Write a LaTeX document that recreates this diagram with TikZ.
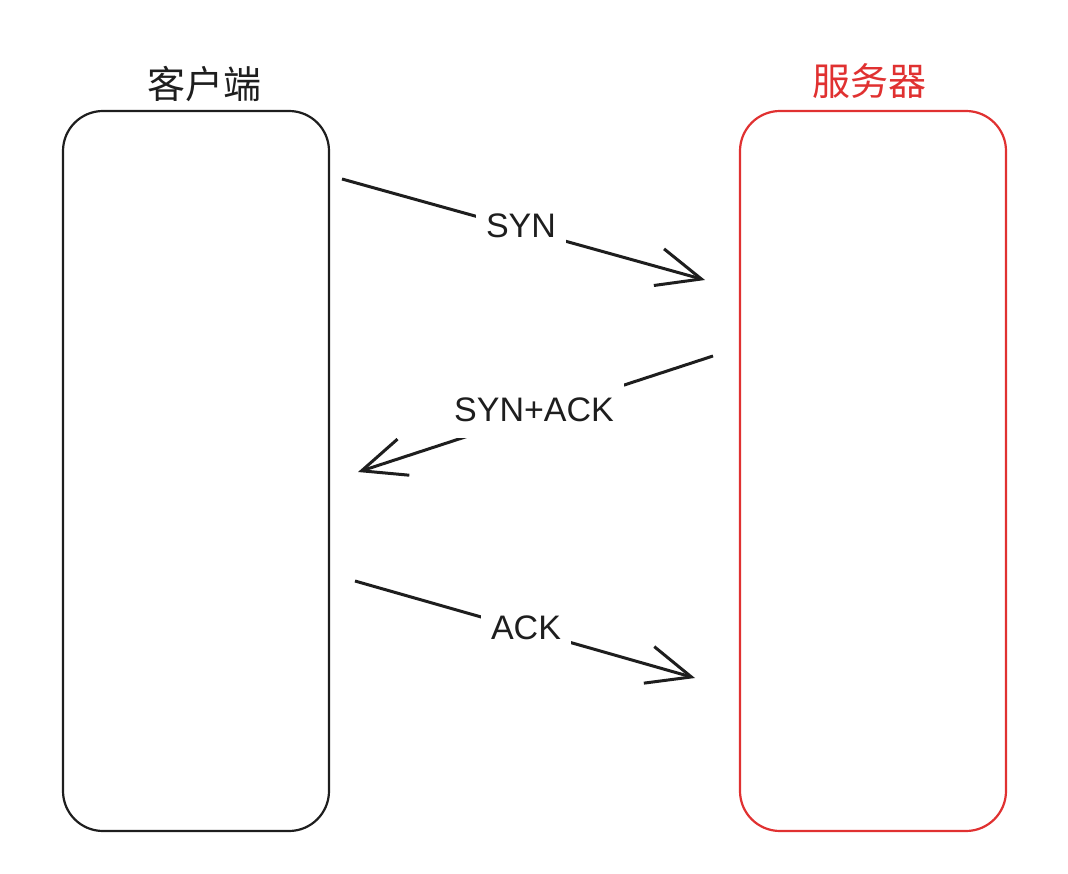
\documentclass[tikz,border=0pt]{standalone}
\usepackage{fontspec}
\setmainfont{Liberation Sans}
\newfontfamily\cjk{Noto Sans CJK SC}
\usetikzlibrary{arrows.meta}
\definecolor{xred}{HTML}{E03131}
\definecolor{xblack}{HTML}{1E1E1E}
\begin{document}
\begin{tikzpicture}[x=1pt,y=-1pt,
  box/.style={draw, line width=2.2pt, rounded corners=40pt},
  title/.style={font=\cjk\fontsize{38}{44}\selectfont},
  msg/.style={line width=3pt, draw=xblack, -{Straight Barb[length=44pt,width=38pt,line width=3pt]}},
  lbl/.style={fill=white, inner xsep=10pt, inner ysep=16pt, font=\fontsize{34}{40}\selectfont, text=xblack}]
\useasboundingbox (0,0) rectangle (1068,874);
\draw[box, xblack] (63,111) rectangle (329,831);
\draw[box, xred] (740,111) rectangle (1006,831);
\node[title, text=xblack] (client) at (204,84) {客户端};
\node[title, text=xred] (server) at (869,81) {服务器};
\coordinate (s1) at (342,179); \coordinate (e1) at (705,280);
\coordinate (s2) at (713,356); \coordinate (e2) at (358,472);
\coordinate (s3) at (355,581); \coordinate (e3) at (695,678);
\draw[msg] (s1) -- (e1);
\draw[msg] (s2) -- (e2);
\draw[msg] (s3) -- (e3);
\node[lbl] (syn) at (521,226) {SYN};
\node[lbl] (synack) at (534,410) {SYN+ACK};
\node[lbl] (ack) at (526,628) {ACK};
\end{tikzpicture}
\end{document}
